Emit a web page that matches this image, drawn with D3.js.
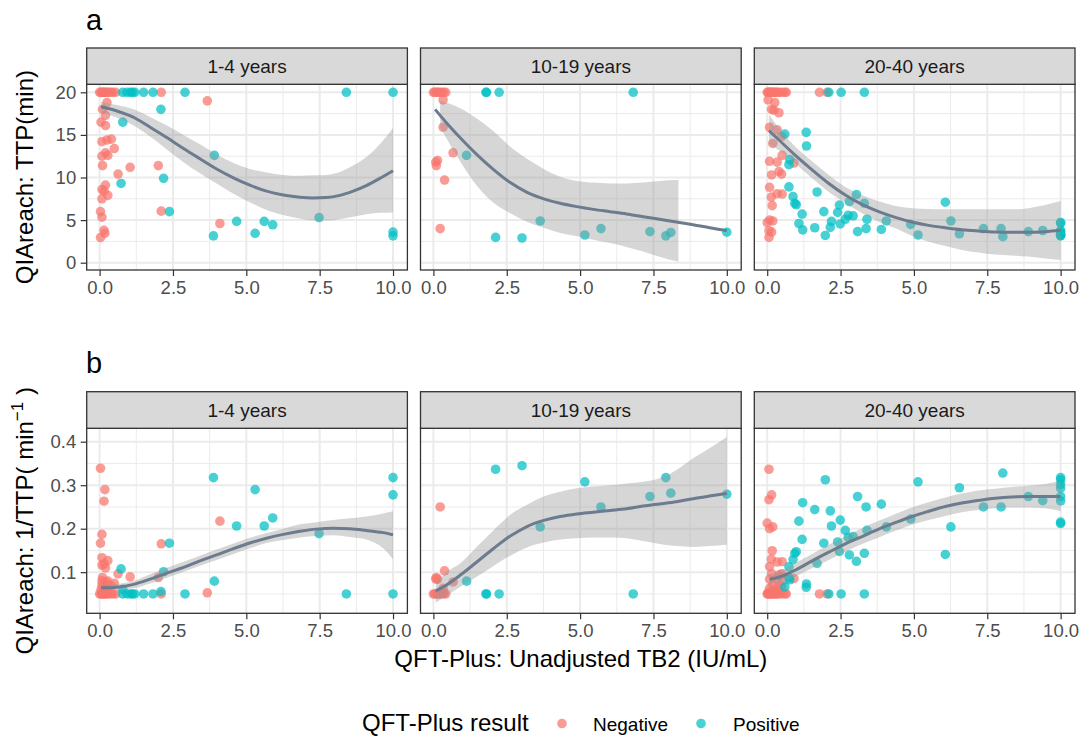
<!DOCTYPE html>
<html><head><meta charset="utf-8">
<script src="https://cdn.jsdelivr.net/npm/d3@7"></script>
<style>
body{margin:0;background:#fff;}
svg{display:block;font-family:"Liberation Sans",Arial,Helvetica,sans-serif;}
</style>
</head><body>
<svg id="chart" width="1081" height="736"></svg>
<script>
// ---------------- DATA ----------------
const ageGroups = ["1-4 years", "10-19 years", "20-40 years"];
const resultLevels = ["Negative", "Positive"];
const xTicks = [0, 2.5, 5, 7.5, 10];
const xMinor = [1.25, 3.75, 6.25, 8.75];
const yTicksTTP = [0, 5, 10, 15, 20];
const yMinorTTP = [2.5, 7.5, 12.5, 17.5];
const yTicksInv = [0.1, 0.2, 0.3, 0.4];
const yMinorInv = [0.05, 0.15, 0.25, 0.35];

// 1-4 years : TB2 (x) and TTP (min)
const negX_14 = [0.00,0.05,0.08,0.12,0.15,0.20,0.25,0.30,0.38,0.45,0.55,2.10,3.67,
  0.25,0.10,0.20,0.05,0.20,0.08,0.25,0.40,0.50,0.20,0.08,0.28,0.10,0.63,1.04,2.00,0.20,0.08,0.15,0.28,0.08,2.10,0.03,0.08,4.10,0.15,0.18,0.03];
const negTTP_14 = [20,20,20,20,20,20,20,20,20,20,20,20,19.0,
  18.8,18.0,17.3,16.5,16.1,14.2,14.4,14.5,13.4,12.9,12.5,12.6,11.4,10.4,11.2,11.4,9.1,8.6,8.4,7.9,7.5,6.05,6.0,5.35,4.6,3.8,3.45,2.95];
const posX_14 = [0.79,0.93,1.05,1.12,1.20,1.50,1.82,2.91,8.41,10.0,2.09,0.79,3.91,2.18,0.73,2.38,4.67,5.61,5.90,7.48,5.30,3.88,10.0,10.0];
const posTTP_14 = [20,20,20,20,20,20,20,20,20,20,18.0,16.5,12.6,9.9,9.3,6.0,4.85,4.85,4.45,5.3,3.45,3.15,3.6,3.15];

// 10-19 years
const negX_1019 = [0.00,0.05,0.10,0.15,0.20,0.27,0.35,0.42,0.33,0.33,0.67,0.14,0.08,0.10,0.38,0.23];
const negTTP_1019 = [20,20,20,20,20,20,20,20,19.1,15.9,12.9,12.0,11.8,11.4,9.7,4.0];
const posX_1019 = [1.79,1.81,2.24,6.81,1.13,3.64,2.12,3.02,5.16,5.71,7.38,7.92,8.09,10.0];
const posTTP_1019 = [20,20,20,20,12.6,4.9,2.97,2.9,3.25,4.0,3.65,3.15,3.55,3.58];

// 20-40 years
const negX_2040 = [0.00,0.03,0.06,0.10,0.13,0.17,0.20,0.25,0.30,0.35,0.40,0.50,0.60,0.65,1.78,2.04,
  0.03,0.26,0.15,0.23,0.40,0.08,0.34,0.49,0.19,0.51,0.08,0.34,0.91,0.40,0.15,0.49,0.08,0.34,0.51,0.14,0.17,0.08,0.19,0.00,0.06,0.15,0.06];
const negTTP_2040 = [20,20,20,20,20,20,20,20,20,20,20,20,20,20,20,20,
  19.1,18.8,18.0,17.9,17.6,15.9,15.6,14.8,14.0,12.6,11.9,11.8,11.7,10.7,10.3,10.4,8.85,8.1,8.06,7.7,6.7,5.0,4.9,4.7,3.75,3.6,2.97];
const posX_2040 = [2.10,2.52,3.31,
  0.60,1.33,1.34,0.77,0.74,0.74,0.88,0.94,0.99,1.70,
  1.19,1.08,1.21,1.62,1.93,1.98,2.15,2.19,2.40,2.46,
  2.49,2.66,2.76,2.80,2.93,3.04,3.31,3.40,3.08,3.37,
  3.89,4.06,4.89,5.14,6.07,6.26,6.55,7.37,7.97,8.03,
  8.90,9.39,10,10,10,10,10,10,10,10];
const posTTP_2040 = [20,20,20,
  15.1,15.3,13.7,12.1,11.5,8.9,7.75,6.97,6.8,8.3,
  5.7,4.6,3.85,4.1,6.0,3.2,4.15,4.85,5.9,6.77,
  4.55,5.1,5.55,7.16,5.5,8.0,6.97,5.1,3.65,4.0,
  3.9,4.9,4.5,3.25,7.1,4.9,3.4,4.0,4.0,3.05,
  3.65,3.78,4.72,4.65,3.79,3.65,3.41,3.31,3.2,3.15];

// Smooth fits -- panel a (TTP)
const fitX_a14 = [0.05,0.59,1.16,1.72,2.29,2.86,3.42,3.99,4.56,5.12,5.69,6.26,6.83,7.28,7.73,8.19,8.64,9.09,9.55,10];
const fit_a14 = [18.3,17.8,17.05,15.9,14.7,13.4,12.2,11.0,9.96,9.1,8.4,7.95,7.68,7.6,7.64,7.9,8.4,9.05,9.9,10.8];
const lo_a14 = [17.7,17.0,16.1,14.8,13.3,11.8,10.5,9.3,8.1,7.1,6.2,5.6,5.15,4.95,4.95,5.1,5.4,5.7,5.85,5.9];
const hi_a14 = [18.9,18.5,18.0,17.1,16.1,15.0,13.9,12.7,11.7,11.0,10.6,10.3,10.2,10.25,10.3,10.65,11.4,12.4,13.9,15.8];

const fitX_a1019 = [0.06,0.36,0.93,1.49,2.06,2.62,3.19,3.76,4.32,4.89,5.45,6.02,6.58,7.15,7.71,8.28,8.85,9.41,10];
const fit_a1019 = [18.0,16.75,14.6,12.65,10.9,9.4,8.26,7.5,6.97,6.58,6.26,5.99,5.72,5.4,5.09,4.77,4.46,4.1,3.76];
const bandX_a1019 = [0.23,0.93,1.49,2.06,2.62,3.19,3.76,4.32,4.89,5.45,6.02,6.58,7.15,7.71,8.35];
const lo_a1019 = [15.9,11.8,9.0,7.0,5.8,4.8,4.1,3.5,3.1,2.7,2.3,1.85,1.3,0.7,0.1];
const hi_a1019 = [19.0,18.1,16.9,15.4,13.6,12.2,11.0,10.1,9.6,9.4,9.3,9.3,9.4,9.6,9.7];

const fitX_a2040 = [0.06,0.4,0.96,1.53,2.1,2.66,3.23,3.8,4.37,4.93,5.5,6.07,6.63,7.2,7.77,8.33,8.9,9.47,10];
const fit_a2040 = [15.5,14.4,12.6,10.9,9.3,7.95,6.85,6.0,5.32,4.77,4.38,4.1,3.87,3.72,3.6,3.56,3.56,3.64,3.8];
const lo_a2040 = [13.9,13.2,11.6,9.9,8.3,7.0,5.8,4.8,4.03,3.15,2.45,1.95,1.5,1.2,0.95,0.85,0.72,0.5,0.33];
const hi_a2040 = [17.4,15.8,13.6,11.9,10.3,8.9,7.95,7.2,6.65,6.4,6.3,6.26,6.26,6.26,6.26,6.26,6.4,6.77,7.24];

// Smooth fits -- panel b (1/TTP)
const fitX_b14 = [0.05,0.59,1.16,1.72,2.29,2.86,3.42,3.99,4.56,5.12,5.69,6.26,6.83,7.39,7.96,8.53,9.09,9.66,10];
const fit_b14 = [0.064,0.0656,0.072,0.084,0.098,0.111,0.126,0.140,0.154,0.167,0.178,0.187,0.194,0.199,0.201,0.200,0.196,0.191,0.186];
const lo_b14 = [0.058,0.060,0.063,0.074,0.087,0.101,0.115,0.128,0.142,0.155,0.167,0.174,0.180,0.183,0.185,0.181,0.175,0.155,0.130];
const hi_b14 = [0.070,0.073,0.080,0.095,0.110,0.124,0.138,0.152,0.166,0.179,0.190,0.200,0.210,0.215,0.220,0.224,0.228,0.235,0.240];

const fitX_b1019 = [0.08,0.36,0.93,1.49,2.06,2.62,3.19,3.76,4.32,4.89,5.45,6.02,6.58,7.15,7.71,8.28,8.85,9.41,10];
const fit_b1019 = [0.057,0.067,0.094,0.124,0.155,0.183,0.205,0.219,0.228,0.234,0.238,0.242,0.246,0.252,0.257,0.262,0.269,0.275,0.281];
const lo_b1019 = [0.030,0.042,0.067,0.090,0.115,0.138,0.157,0.168,0.175,0.178,0.180,0.180,0.178,0.172,0.165,0.160,0.158,0.160,0.163];
const hi_b1019 = [0.072,0.095,0.121,0.159,0.197,0.232,0.255,0.274,0.285,0.293,0.297,0.300,0.304,0.308,0.316,0.335,0.362,0.385,0.411];

const fitX_b2040 = [0.08,0.4,0.96,1.53,2.1,2.66,3.23,3.8,4.37,4.93,5.5,6.07,6.63,7.2,7.77,8.33,8.9,9.47,10];
const fit_b2040 = [0.084,0.0885,0.105,0.126,0.146,0.165,0.182,0.199,0.214,0.228,0.240,0.251,0.259,0.265,0.270,0.273,0.274,0.274,0.274];
const lo_b2040 = [0.071,0.076,0.090,0.109,0.128,0.147,0.165,0.180,0.195,0.209,0.220,0.229,0.238,0.243,0.247,0.249,0.249,0.247,0.240];
const hi_b2040 = [0.095,0.102,0.121,0.142,0.163,0.182,0.201,0.218,0.234,0.249,0.261,0.272,0.281,0.288,0.292,0.296,0.299,0.303,0.310];

// ---------------- BUILD ----------------
const colNeg = "#F8766D", colPos = "#00BFC4";
const groupPoints = [
  {negX: negX_14, negY: negTTP_14, posX: posX_14, posY: posTTP_14},
  {negX: negX_1019, negY: negTTP_1019, posX: posX_1019, posY: posTTP_1019},
  {negX: negX_2040, negY: negTTP_2040, posX: posX_2040, posY: posTTP_2040}
];
const smoothA = [
  {fx: fitX_a14, f: fit_a14, bx: fitX_a14, lo: lo_a14, hi: hi_a14},
  {fx: fitX_a1019, f: fit_a1019, bx: bandX_a1019, lo: lo_a1019, hi: hi_a1019},
  {fx: fitX_a2040, f: fit_a2040, bx: fitX_a2040, lo: lo_a2040, hi: hi_a2040}
];
const smoothB = [
  {fx: fitX_b14, f: fit_b14, bx: fitX_b14, lo: lo_b14, hi: hi_b14},
  {fx: fitX_b1019, f: fit_b1019, bx: fitX_b1019, lo: lo_b1019, hi: hi_b1019},
  {fx: fitX_b2040, f: fit_b2040, bx: fitX_b2040, lo: lo_b2040, hi: hi_b2040}
];

const svg = d3.select("#chart");
const defs = svg.append("defs");
const panelLefts = [86.7, 420.5, 754.3];
const panelW = 320.7;
const rows = [
  {tag: "a", tagY: 30, stripTop: 48, top: 84.3, bottom: 270, dom: [-0.857, 20.94],
   ticks: yTicksTTP, minor: yMinorTTP, fmt: d3.format("d"), inv: false, smooth: smoothA},
  {tag: "b", tagY: 373, stripTop: 391.7, top: 428.3, bottom: 613.3, dom: [0.0055, 0.4308],
   ticks: yTicksInv, minor: yMinorInv, fmt: d3.format(".1f"), inv: true, smooth: smoothB}
];

rows.forEach((row, ri) => {
  svg.append("text").attr("x", 86).attr("y", row.tagY).attr("font-size", 29)
    .attr("fill", "#000").text(row.tag);
  ageGroups.forEach((grp, gi) => {
    const L = panelLefts[gi];
    const x = d3.scaleLinear().domain([-0.44, 10.49]).range([L, L + panelW]);
    const y = d3.scaleLinear().domain(row.dom).range([row.bottom, row.top]);
    const clipId = `clip-${ri}-${gi}`;
    defs.append("clipPath").attr("id", clipId).append("rect")
      .attr("x", L).attr("y", row.top).attr("width", panelW).attr("height", row.bottom - row.top);
    const g = svg.append("g");
    const pg = g.append("g").attr("clip-path", `url(#${clipId})`);
    pg.append("rect").attr("x", L).attr("y", row.top).attr("width", panelW)
      .attr("height", row.bottom - row.top).attr("fill", "#fff");
    // minor grid
    pg.selectAll(null).data(xMinor).join("line")
      .attr("x1", d => x(d)).attr("x2", d => x(d)).attr("y1", row.top).attr("y2", row.bottom)
      .attr("stroke", "#EBEBEB").attr("stroke-width", 1);
    pg.selectAll(null).data(row.minor).join("line")
      .attr("y1", d => y(d)).attr("y2", d => y(d)).attr("x1", L).attr("x2", L + panelW)
      .attr("stroke", "#EBEBEB").attr("stroke-width", 1);
    // major grid
    pg.selectAll(null).data(xTicks).join("line")
      .attr("x1", d => x(d)).attr("x2", d => x(d)).attr("y1", row.top).attr("y2", row.bottom)
      .attr("stroke", "#EBEBEB").attr("stroke-width", 2);
    pg.selectAll(null).data(row.ticks).join("line")
      .attr("y1", d => y(d)).attr("y2", d => y(d)).attr("x1", L).attr("x2", L + panelW)
      .attr("stroke", "#EBEBEB").attr("stroke-width", 2);
    // points
    const gp = groupPoints[gi];
    const pts = [];
    gp.negX.forEach((v, i) => pts.push({x: v, t: gp.negY[i], c: colNeg}));
    gp.posX.forEach((v, i) => pts.push({x: v, t: gp.posY[i], c: colPos}));
    pg.selectAll(null).data(pts).join("circle")
      .attr("cx", d => x(d.x)).attr("cy", d => y(row.inv ? 1 / d.t : d.t))
      .attr("r", 4.8).attr("fill", d => d.c).attr("fill-opacity", 0.72);
    // ribbon + line
    const sm = row.smooth[gi];
    const band = sm.bx.map((v, i) => ({x: v, lo: sm.lo[i], hi: sm.hi[i]}));
    const fit = sm.fx.map((v, i) => ({x: v, y: sm.f[i]}));
    pg.append("path").datum(band)
      .attr("d", d3.area().x(d => x(d.x)).y0(d => y(d.lo)).y1(d => y(d.hi)).curve(d3.curveMonotoneX))
      .attr("fill", "#999999").attr("fill-opacity", 0.4);
    pg.append("path").datum(fit)
      .attr("d", d3.line().x(d => x(d.x)).y(d => y(d.y)).curve(d3.curveMonotoneX))
      .attr("fill", "none").attr("stroke", "#6C7B8E").attr("stroke-width", 3);
    // border
    g.append("rect").attr("x", L).attr("y", row.top).attr("width", panelW)
      .attr("height", row.bottom - row.top).attr("fill", "none").attr("stroke", "#333333").attr("stroke-width", 1.3);
    // strip
    g.append("rect").attr("x", L).attr("y", row.stripTop).attr("width", panelW)
      .attr("height", row.top - row.stripTop).attr("fill", "#D9D9D9").attr("stroke", "#333333").attr("stroke-width", 1.3);
    g.append("text").attr("x", L + panelW / 2).attr("y", (row.stripTop + row.top) / 2)
      .attr("dy", "0.36em").attr("text-anchor", "middle").attr("font-size", 19).attr("fill", "#1A1A1A").text(grp);
    // axes
    const xa = g.append("g").attr("transform", `translate(0,${row.bottom})`)
      .call(d3.axisBottom(x).tickValues(xTicks).tickFormat(d3.format(".1f")).tickSize(6).tickPadding(4.5));
    xa.select(".domain").remove();
    xa.selectAll("line").attr("stroke", "#333333").attr("stroke-width", 1.2);
    xa.selectAll("text").attr("fill", "#4D4D4D").attr("font-size", 18.5).attr("font-family", null);
    if (gi === 0) {
      const ya = g.append("g").attr("transform", `translate(${L},0)`)
        .call(d3.axisLeft(y).tickValues(row.ticks).tickFormat(row.fmt).tickSize(6).tickPadding(4.5));
      ya.select(".domain").remove();
      ya.selectAll("line").attr("stroke", "#333333").attr("stroke-width", 1.2);
      ya.selectAll("text").attr("fill", "#4D4D4D").attr("font-size", 18.5).attr("font-family", null);
    }
  });
});

// axis titles
const cyA = (84.3 + 270) / 2, cyB = (428.3 + 613.3) / 2;
svg.append("text").attr("transform", `translate(33,${cyA}) rotate(-90)`)
  .attr("text-anchor", "middle").attr("font-size", 24).attr("fill", "#000").text("QIAreach: TTP(min)");
const tb = svg.append("text").attr("transform", `translate(33,${cyB}) rotate(-90)`)
  .attr("text-anchor", "middle").attr("font-size", 24).attr("fill", "#000");
tb.append("tspan").text("QIAreach: 1/TTP( min");
tb.append("tspan").attr("font-size", 17).attr("dy", -10).text("\u22121");
tb.append("tspan").attr("dy", 10).text(" )");
svg.append("text").attr("x", (86.7 + 1075) / 2).attr("y", 667).attr("text-anchor", "middle")
  .attr("font-size", 24).attr("fill", "#000").text("QFT-Plus: Unadjusted TB2 (IU/mL)");

// legend
svg.append("text").attr("x", 362).attr("y", 731).attr("font-size", 24).attr("fill", "#000").text("QFT-Plus result");
const legX = [562, 701], legTX = [593, 733];
resultLevels.forEach((lv, i) => {
  svg.append("circle").attr("cx", legX[i]).attr("cy", 723.5).attr("r", 4.8)
    .attr("fill", i === 0 ? colNeg : colPos).attr("fill-opacity", 0.72);
  svg.append("text").attr("x", legTX[i]).attr("y", 730.5).attr("font-size", 19).attr("fill", "#000").text(lv);
});
</script>
</body></html>
